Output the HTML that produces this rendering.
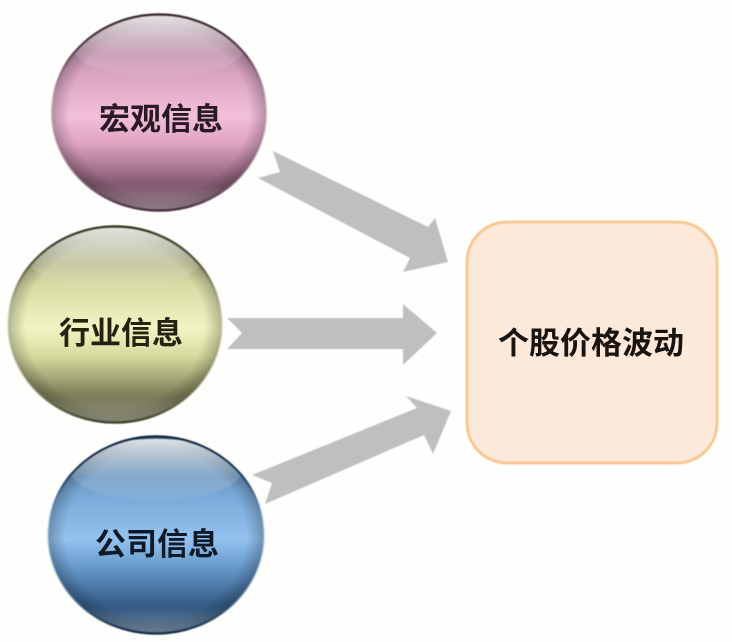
<!DOCTYPE html>
<html><head><meta charset="utf-8"><style>
html,body{margin:0;padding:0;background:#fefefd;width:732px;height:642px;overflow:hidden}
svg{display:block}
text{font-family:"Liberation Sans","Noto Sans CJK SC",sans-serif;font-weight:700;text-anchor:middle}
</style></head><body>
<svg width="732" height="642" viewBox="0 0 732 642" xmlns="http://www.w3.org/2000/svg">
<defs>
<linearGradient id="p" x1="0" y1="0" x2="0" y2="1">
<stop offset="0" stop-color="#8f7383"/><stop offset=".3" stop-color="#d9a3c0"/><stop offset=".52" stop-color="#f3bfda"/><stop offset=".66" stop-color="#dda3c0"/><stop offset=".88" stop-color="#7d5269"/><stop offset="1" stop-color="#7a5a6c"/>
</linearGradient>
<linearGradient id="o" x1="0" y1="0" x2="0" y2="1">
<stop offset="0" stop-color="#8b8d70"/><stop offset=".3" stop-color="#d8dca4"/><stop offset=".52" stop-color="#f2f4c2"/><stop offset=".66" stop-color="#d8db9f"/><stop offset=".88" stop-color="#737550"/><stop offset="1" stop-color="#6d6e54"/>
</linearGradient>
<linearGradient id="b" x1="0" y1="0" x2="0" y2="1">
<stop offset="0" stop-color="#557590"/><stop offset=".3" stop-color="#79a9d8"/><stop offset=".52" stop-color="#94c2f0"/><stop offset=".66" stop-color="#689acb"/><stop offset=".88" stop-color="#2d547e"/><stop offset="1" stop-color="#3a5a7a"/>
</linearGradient>
<linearGradient id="g" x1="0" y1="0" x2="0" y2="1">
<stop offset="0" stop-color="#fff" stop-opacity=".82"/><stop offset=".6" stop-color="#fff" stop-opacity=".16"/><stop offset="1" stop-color="#fff" stop-opacity=".04"/>
</linearGradient>
<linearGradient id="c" x1="0" y1="0" x2="0" y2="1">
<stop offset=".85" stop-color="#fff" stop-opacity="0"/><stop offset="1" stop-color="#fff" stop-opacity=".28"/>
</linearGradient>
<radialGradient id="e" cx=".5" cy=".5" r=".5">
<stop offset=".84" stop-color="#000" stop-opacity="0"/><stop offset="1" stop-color="#000" stop-opacity=".24"/>
</radialGradient>
<linearGradient id="rp" x1="0" y1="0" x2="0" y2="1">
<stop offset="0" stop-color="#3e2634"/><stop offset=".22" stop-color="#6d4d60"/><stop offset=".45" stop-color="#b98aa5" stop-opacity=".4"/><stop offset=".75" stop-color="#8d6078" stop-opacity=".5"/><stop offset="1" stop-color="#4a3040"/>
</linearGradient>
<linearGradient id="ro" x1="0" y1="0" x2="0" y2="1">
<stop offset="0" stop-color="#36371f"/><stop offset=".22" stop-color="#6a6c4a"/><stop offset=".45" stop-color="#b5b88a" stop-opacity=".4"/><stop offset=".75" stop-color="#85875e" stop-opacity=".5"/><stop offset="1" stop-color="#44452c"/>
</linearGradient>
<linearGradient id="rb" x1="0" y1="0" x2="0" y2="1">
<stop offset="0" stop-color="#0f2a44"/><stop offset=".22" stop-color="#2f4f70"/><stop offset=".45" stop-color="#6f9ccb" stop-opacity=".4"/><stop offset=".75" stop-color="#3b6693" stop-opacity=".5"/><stop offset="1" stop-color="#16304a"/>
</linearGradient>
<filter id="s"><feGaussianBlur stdDeviation=".6"/></filter>
</defs>

<g filter="url(#s)">
<polygon points="258,178 280,172 273,151 428,227 435,218 448,262 403,272 410,258" fill="#bfbfbf"/>
<polygon points="227,318 403,318 403,304 437,333 403,365 403,349 227,349 242,333" fill="#bfbfbf"/>
<polygon points="252,475 417,408 406,396 451,411 433,454 424,435 265,504 272,483" fill="#bfbfbf"/>

<rect x="467" y="222" width="250" height="241" rx="40" ry="40" fill="#fde9da" stroke="#fac48c" stroke-width="2.800"/>

<ellipse cx="159" cy="112.500" rx="107" ry="98" fill="url(#p)"/>
<ellipse cx="159" cy="112.500" rx="107" ry="98" fill="url(#e)"/>
<ellipse cx="159" cy="112.500" rx="107" ry="98" fill="url(#c)"/>
<ellipse cx="159" cy="47" rx="86" ry="31" fill="url(#g)"/>
<ellipse cx="159" cy="112.500" rx="107" ry="98" fill="none" stroke="url(#rp)" stroke-width="2.600"/>

<ellipse cx="115" cy="324.500" rx="106.500" ry="98" fill="url(#o)"/>
<ellipse cx="115" cy="324.500" rx="106.500" ry="98" fill="url(#e)"/>
<ellipse cx="115" cy="324.500" rx="106.500" ry="98" fill="url(#c)"/>
<ellipse cx="115" cy="259" rx="86" ry="31" fill="url(#g)"/>
<ellipse cx="115" cy="324.500" rx="106.500" ry="98" fill="none" stroke="url(#ro)" stroke-width="2.600"/>

<ellipse cx="156" cy="535" rx="107.500" ry="98.500" fill="url(#b)"/>
<ellipse cx="156" cy="535" rx="107.500" ry="98.500" fill="url(#e)"/>
<ellipse cx="156" cy="535" rx="107.500" ry="98.500" fill="url(#c)"/>
<ellipse cx="156" cy="470" rx="86" ry="31" fill="url(#g)"/>
<ellipse cx="156" cy="535" rx="107.500" ry="98.500" fill="none" stroke="url(#rb)" stroke-width="2.600"/>
</g>

<text x="161" y="130" font-size="31" fill="#2a1a24">宏观信息</text>
<text x="121" y="344" font-size="31" fill="#23230f">行业信息</text>
<text x="157" y="555" font-size="31" fill="#0e1a28">公司信息</text>
<text x="591" y="354" font-size="31" fill="#1a1410">个股价格波动</text>
</svg>
</body></html>
